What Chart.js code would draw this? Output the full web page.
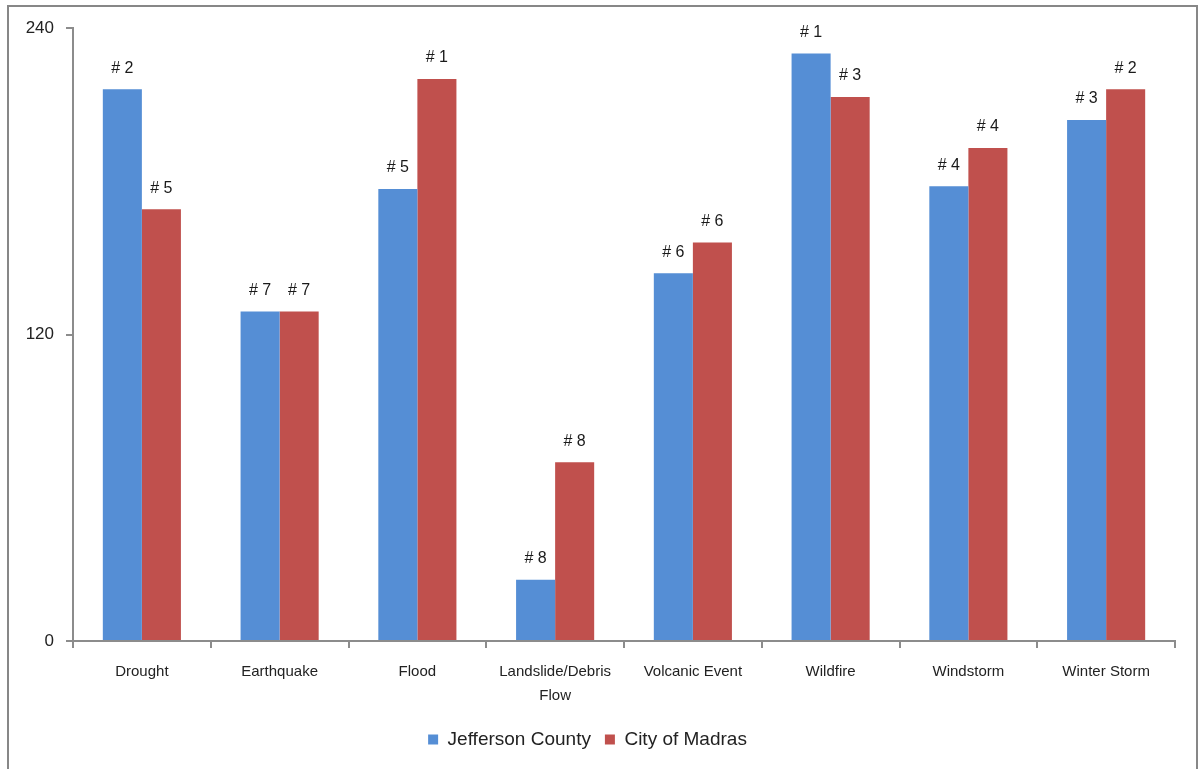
<!DOCTYPE html>
<html>
<head>
<meta charset="utf-8">
<script src="https://cdn.jsdelivr.net/npm/chart.js@4"></script>
<style>
  html, body { margin: 0; padding: 0; background: #fff; }
  #wrap { width: 1200px; height: 769px; }
</style>
</head>
<body>
<div id="wrap"><canvas id="myChart" width="1200" height="769"></canvas></div>
<script>
const hazards = ['Drought', 'Earthquake', 'Flood', ['Landslide/Debris', 'Flow'], 'Volcanic Event', 'Wildfire', 'Windstorm', 'Winter Storm'];
const jeffersonScores = [216, 129, 177, 24, 144, 230, 178, 204];
const madrasScores = [169, 129, 220, 70, 156, 213, 193, 216];
const jeffersonRanks = ['# 2', '# 7', '# 5', '# 8', '# 6', '# 1', '# 4', '# 3'];
const madrasRanks = ['# 5', '# 7', '# 1', '# 8', '# 6', '# 3', '# 4', '# 2'];
const yTicks = [0, 120, 240];

const FONT = '"Liberation Sans", Arial, sans-serif';
const AXIS_GRAY = '#8c8c8c';

// outer frame round the whole chart
const framePlugin = {
  id: 'frame',
  beforeDraw(chart) {
    const ctx = chart.ctx;
    ctx.save();
    ctx.fillStyle = '#fff';
    ctx.fillRect(0, 0, chart.width, chart.height);
    ctx.strokeStyle = '#878787';
    ctx.lineWidth = 2;
    ctx.strokeRect(8, 6, 1189, 800);
    ctx.restore();
  }
};

// "# n" rank labels above each bar
const rankPlugin = {
  id: 'ranks',
  afterDatasetsDraw(chart) {
    const ctx = chart.ctx;
    const ranks = [jeffersonRanks, madrasRanks];
    ctx.save();
    ctx.font = '16px ' + FONT;
    ctx.fillStyle = '#1a1a1a';
    ctx.textAlign = 'center';
    ctx.textBaseline = 'middle';
    chart.data.datasets.forEach((ds, i) => {
      chart.getDatasetMeta(i).data.forEach((bar, j) => {
        ctx.fillText(ranks[i][j], bar.x, bar.y - 21);
      });
    });
    ctx.restore();
  }
};

new Chart(document.getElementById('myChart'), {
  type: 'bar',
  data: {
    labels: hazards,
    datasets: [
      { label: 'Jefferson County', data: jeffersonScores, backgroundColor: '#558ed5' },
      { label: 'City of Madras', data: madrasScores, backgroundColor: '#c0504d' }
    ]
  },
  options: {
    responsive: false,
    animation: false,
    events: [],
    layout: { padding: { left: 0, right: 25, top: 28, bottom: 10 } },
    datasets: { bar: { categoryPercentage: 0.567, barPercentage: 1.0 } },
    scales: {
      x: {
        grid: { display: true, drawOnChartArea: false, offset: true, color: AXIS_GRAY, lineWidth: 2, tickLength: 7 },
        border: { color: AXIS_GRAY, width: 2 },
        ticks: { color: '#222', font: { family: FONT, size: 15, lineHeight: 1.6 }, padding: 12, maxRotation: 0 },
        afterFit(scale) { scale.height = 75; }
      },
      y: {
        min: 0,
        max: 240,
        afterBuildTicks(scale) { scale.ticks = yTicks.map(v => ({ value: v })); },
        grid: { display: true, drawOnChartArea: false, color: AXIS_GRAY, lineWidth: 2, tickLength: 7 },
        border: { color: AXIS_GRAY, width: 2 },
        ticks: { color: '#222', font: { family: FONT, size: 17 }, padding: 12 },
        afterFit(scale) { scale.width = 73; }
      }
    },
    plugins: {
      legend: {
        position: 'bottom',
        labels: {
          color: '#222',
          font: { family: FONT, size: 19 },
          boxWidth: 10,
          boxHeight: 10,
          padding: 14
        }
      },
      tooltip: { enabled: false }
    }
  },
  plugins: [framePlugin, rankPlugin]
});
</script>
</body>
</html>
